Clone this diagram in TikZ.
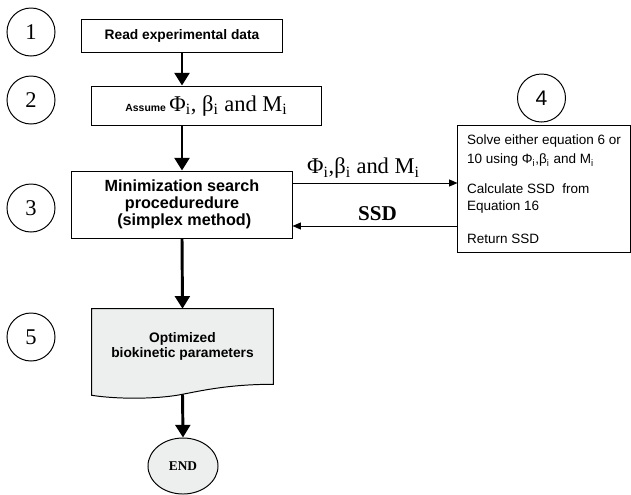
\documentclass[tikz,border=0pt]{standalone}
\usepackage{fontspec}
\setmainfont{Liberation Serif}
\setsansfont{Liberation Sans}
\usetikzlibrary{arrows.meta,shapes,calc,backgrounds}

\definecolor{docgray}{RGB}{237,239,238}

\tikzset{
  stepnum/.style={draw, circle, line width=0.7pt, minimum size=1.2cm,
    inner sep=0pt, font=\fontsize{16}{18}\selectfont},
  procbox/.style={draw, rectangle, line width=0.7pt, inner sep=2pt, align=center},
  boxfont/.style={font=\sffamily\bfseries\fontsize{9.8}{10.5}\selectfont},
  flow/.style={line width=2.1pt, -{Triangle[width=10.5pt,length=9pt]}},
  pass/.style={line width=0.7pt, -{Triangle[width=5pt,length=6pt]}},
}

\begin{document}
\begin{tikzpicture}[x=0.025cm,y=-0.025cm]
  \useasboundingbox (0,0) rectangle (631,494);
  % Step numbers
  \foreach \n/\y in {1/32,2/100,3/208,5/337}
    \node [stepnum] (c\n) at (31,\y) {\n};
  \node [stepnum, font=\sffamily\fontsize{15}{18}\selectfont] (c4) at (541.5,98) {4};
  % Boxes
  \node [procbox, boxfont, minimum width=5cm, minimum height=0.825cm] (read)
    at (182,35.5) {Read experimental data};
  \node [procbox, minimum width=5.725cm, minimum height=0.975cm] (assume)
    at (206.5,105.5) {{\sffamily\bfseries\fontsize{7.4}{8}\selectfont Assume}
    {\fontsize{16}{18}\selectfont Φ\textsubscript{i}, β\textsubscript{i} and M\textsubscript{i}}};
  \node [procbox, minimum width=5.5cm, minimum height=1.675cm,
    font=\sffamily\bfseries\fontsize{11.5}{12}\selectfont] (mini)
    at (182,204.5) {Minimization search\\ proceduredure\\ \ (simplex method)};
  \node [procbox, align=left, minimum width=4.3cm, minimum height=3.15cm,
    font=\sffamily\fontsize{9.6}{12}\selectfont] (solve) at (544,189)
    {Solve either equation 6 or\\[2pt]
     10 using Φ\textsubscript{i},β\textsubscript{i} and M\textsubscript{i}\\[9pt]
     Calculate SSD~ from\\
     Equation 16\\[11.5pt]
     Return SSD};
  \node [boxfont, align=center, minimum width=4.525cm, minimum height=1.875cm] (opt)
    at (182.5,346.5) {Optimized\\ biokinetic parameters};
  \node [draw, ellipse, fill=docgray, line width=0.7pt, minimum width=1.75cm,
    minimum height=1.4cm, font=\bfseries\fontsize{9.5}{11}\selectfont] (finish)
    at (183,466) {END};
  % Document outline behind step 5
  \coordinate (optb) at ($(opt.south)+(0,10)$);
  \coordinate (optl) at ($(opt.south west)+(0,11)$);
  \begin{scope}[on background layer]
    \draw [fill=docgray, line width=0.7pt] (opt.north west) -- (opt.north east)
      -- (opt.south east) .. controls +(-40,0) and +(25,-5) .. (optb)
      .. controls +(-25,5) and +(25,4) .. (optl) -- cycle;
  \end{scope}
  % Main flow
  \draw [flow] (read.south) -- (read.south |- assume.north);
  \draw [flow] (mini.north |- assume.south) -- (mini.north);
  \draw [flow] (mini.south) -- (opt.north);
  \draw [flow] (optb) -- (finish.north);
  % Exchange with the model
  \coordinate (pout) at ($(mini.east)+(0,-21.5)$);
  \coordinate (pin) at (pout -| solve.west);
  \coordinate (sout) at ($(mini.east)+(0,21.5)$);
  \coordinate (sin) at (sout -| solve.west);
  \draw [pass] (pout) -- (pin)
    node [pos=0.43, above, inner sep=3pt, font=\fontsize{16}{18}\selectfont]
    {Φ\textsubscript{i},β\textsubscript{i} and M\textsubscript{i}};
  \draw [pass] (sin) -- (sout)
    node [pos=0.485, above, font=\bfseries\fontsize{15}{18}\selectfont] {SSD};
\end{tikzpicture}
\end{document}
